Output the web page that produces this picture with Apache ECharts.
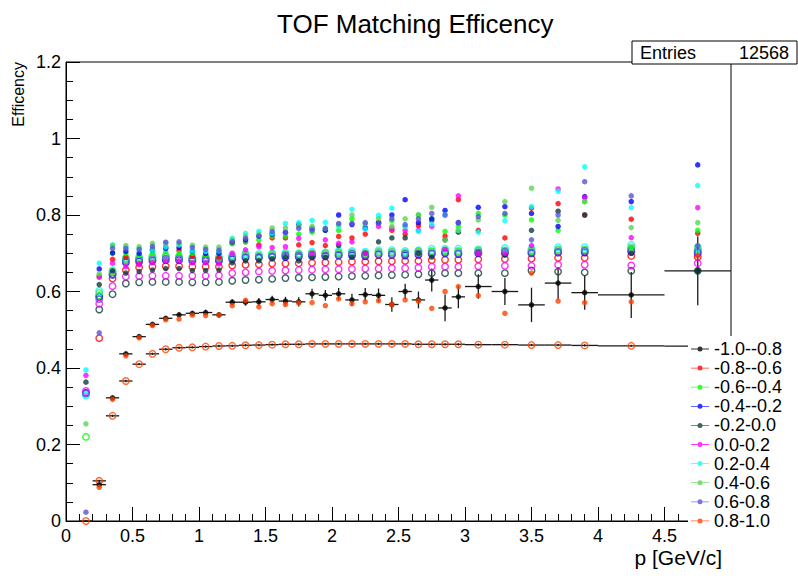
<!DOCTYPE html>
<html><head><meta charset="utf-8">
<script src="https://cdn.jsdelivr.net/npm/echarts@6/dist/echarts.min.js"></script>
<style>html,body{margin:0;padding:0;background:#fff}#c{width:798px;height:578px}</style>
</head><body><div id="c"></div><script>
// ---- data ----
const binCenters = [0.15,0.25,0.35,0.45,0.55,0.65,0.75,0.85,0.95,1.05,1.15,1.25,1.35,1.45,1.55,1.65,1.75,1.85,1.95,2.05,2.15,2.25,2.35,2.45,2.55,2.65,2.75,2.85,2.95,3.1,3.3,3.5,3.7,3.9,4.25,4.75];
const binLow  = [0.1,0.2,0.3,0.4,0.5,0.6,0.7,0.8,0.9,1.0,1.1,1.2,1.3,1.4,1.5,1.6,1.7,1.8,1.9,2.0,2.1,2.2,2.3,2.4,2.5,2.6,2.7,2.8,2.9,3.0,3.2,3.4,3.6,3.8,4.0,4.5];
const binHigh = [0.2,0.3,0.4,0.5,0.6,0.7,0.8,0.9,1.0,1.1,1.2,1.3,1.4,1.5,1.6,1.7,1.8,1.9,2.0,2.1,2.2,2.3,2.4,2.5,2.6,2.7,2.8,2.9,3.0,3.2,3.4,3.6,3.8,4.0,4.5,5.0];
const etaLabels = ['-1.0--0.8','-0.8--0.6','-0.6--0.4','-0.4--0.2','-0.2-0.0','0.0-0.2','0.2-0.4','0.4-0.6','0.6-0.8','0.8-1.0'];
const etaColors = ['#000000','#ff0000','#00ff00','#0000ff','#0e3c3c','#ff00ff','#00ffff','#59d454','#5954d8','#ff4200'];
const xTicks = [0,0.5,1,1.5,2,2.5,3,3.5,4,4.5];
const yTicks = [0,0.2,0.4,0.6,0.8,1,1.2];
const entries = 12568;

// filled markers (one per eta bin)
const effA_n10_n08 = [null,0.095,0.322,0.437,0.482,0.514,0.530,0.539,0.543,0.545,0.539,0.572,0.572,0.573,0.579,0.575,0.573,0.594,0.590,0.594,0.578,0.592,0.590,0.566,0.600,0.578,0.630,0.557,0.586,0.613,0.600,0.565,0.622,0.597,0.591,0.654];
const errA_n10_n08 = [0,0.004,0.005,0.005,0.005,0.005,0.005,0.006,0.006,0.007,0.007,0.008,0.009,0.010,0.010,0.011,0.012,0.013,0.014,0.015,0.016,0.017,0.018,0.019,0.020,0.022,0.030,0.035,0.030,0.032,0.035,0.045,0.042,0.045,0.060,0.090];
const effA_n08_n06 = [null,0.640,0.684,0.690,0.672,0.711,0.717,0.708,0.692,0.695,0.688,0.726,0.730,0.722,0.740,0.740,0.722,0.728,0.720,0.744,0.740,0.750,0.780,0.760,0.750,0.772,0.785,0.745,0.840,0.760,0.740,0.818,0.830,0.800,0.789,0.752];
const effA_n06_n04 = [null,0.640,0.700,0.700,0.695,0.700,0.705,0.700,0.700,0.695,0.700,0.725,0.730,0.735,0.745,0.745,0.750,0.755,0.760,0.760,0.790,0.770,0.780,0.785,0.770,0.800,0.790,0.757,0.770,0.804,0.800,0.787,0.760,0.835,0.715,0.760];
const effA_n04_n02 = [null,0.659,0.701,0.705,0.700,0.708,0.713,0.715,0.705,0.700,0.700,0.730,0.735,0.745,0.750,0.755,0.775,0.765,0.760,0.800,0.775,0.765,0.780,0.800,0.840,0.780,0.790,0.812,0.780,0.820,0.822,0.804,0.770,0.848,0.835,0.931];
const effA_n02_p00 = [0.363,0.618,0.654,0.648,0.652,0.656,0.660,0.660,0.655,0.655,0.656,0.675,0.680,0.680,0.685,0.690,0.680,0.690,0.690,0.720,0.690,0.700,0.730,0.740,0.740,0.700,0.690,0.735,0.755,0.700,0.695,0.760,0.810,0.800,0.700,0.654];
const effA_p00_p02 = [0.381,0.637,0.674,0.665,0.670,0.675,0.680,0.680,0.675,0.675,0.672,0.700,0.709,0.717,0.715,0.717,0.739,0.700,0.735,0.726,0.730,0.700,0.770,0.765,0.760,0.760,0.770,0.710,0.850,0.700,0.700,0.720,0.868,0.845,0.741,0.819];
const effA_p02_p04 = [0.395,0.674,0.722,0.716,0.712,0.708,0.717,0.722,0.706,0.705,0.706,0.739,0.752,0.757,0.752,0.778,0.780,0.786,0.781,0.770,0.815,0.763,0.799,0.818,0.770,0.757,0.776,0.800,0.760,0.755,0.785,0.822,0.862,0.926,0.819,0.877];
const effA_p04_p06 = [0.254,0.647,0.720,0.720,0.717,0.726,0.727,0.725,0.721,0.716,0.716,0.735,0.745,0.750,0.766,0.766,0.770,0.770,0.765,0.775,0.800,0.778,0.790,0.770,0.790,0.800,0.820,0.735,0.760,0.787,0.835,0.870,0.786,0.835,0.767,0.780];
const effA_p06_p08 = [0.023,0.492,0.713,0.712,0.710,0.718,0.729,0.730,0.715,0.710,0.708,0.730,0.739,0.745,0.757,0.754,0.765,0.760,0.765,0.778,0.778,0.780,0.778,0.790,0.775,0.790,0.804,0.800,0.780,0.796,0.804,0.735,0.800,0.887,0.850,0.720];
const effA_p08_p10 = [null,0.088,0.318,0.432,0.479,0.511,0.526,0.528,0.538,0.537,0.539,0.563,0.577,0.560,0.568,0.566,0.570,0.571,0.563,0.581,0.568,0.573,0.576,0.566,0.578,0.575,0.556,0.600,0.613,0.589,0.543,0.648,0.575,0.571,0.573,0.693];

// open markers (one per eta bin)
const effB_n10_n08 = [null,null,null,null,null,null,null,null,null,null,null,null,null,null,null,null,null,null,null,null,null,null,null,null,null,null,null,null,null,null,null,null,null,null,null,null];
const effB_n08_n06 = [null,0.478,0.634,0.656,0.663,0.665,0.666,0.666,0.665,0.665,0.665,0.668,0.670,0.671,0.673,0.673,0.674,0.675,0.676,0.677,0.678,0.678,0.679,0.679,0.680,0.680,0.682,0.683,0.683,0.684,0.685,0.686,0.688,0.688,0.693,0.690];
const effB_n06_n04 = [0.220,0.590,0.650,0.684,0.684,0.688,0.690,0.688,0.686,0.686,0.686,0.690,0.694,0.692,0.696,0.696,0.696,0.698,0.698,0.700,0.700,0.698,0.702,0.702,0.700,0.704,0.704,0.706,0.704,0.706,0.706,0.706,0.708,0.708,0.712,0.708];
const effB_n04_n02 = [0.335,0.586,0.645,0.676,0.678,0.680,0.682,0.682,0.680,0.680,0.680,0.684,0.688,0.688,0.690,0.690,0.690,0.692,0.692,0.694,0.694,0.692,0.696,0.696,0.694,0.696,0.698,0.700,0.698,0.700,0.700,0.700,0.702,0.702,0.704,0.700];
const effB_n02_p00 = [null,0.553,0.593,0.621,0.624,0.625,0.625,0.625,0.624,0.624,0.625,0.628,0.630,0.631,0.633,0.635,0.636,0.637,0.638,0.639,0.640,0.641,0.642,0.643,0.644,0.645,0.648,0.648,0.648,0.648,0.648,0.655,0.652,0.650,0.654,0.654];
const effB_p00_p02 = [0.340,0.568,0.614,0.639,0.640,0.641,0.641,0.641,0.641,0.641,0.642,0.648,0.650,0.652,0.654,0.655,0.656,0.657,0.658,0.658,0.659,0.660,0.660,0.661,0.661,0.662,0.665,0.665,0.665,0.666,0.667,0.667,0.670,0.670,0.668,0.674];
const effB_p02_p04 = [0.328,0.602,0.656,0.688,0.690,0.692,0.694,0.692,0.690,0.690,0.690,0.695,0.700,0.698,0.700,0.702,0.700,0.704,0.702,0.706,0.706,0.704,0.708,0.708,0.706,0.708,0.712,0.712,0.712,0.710,0.714,0.712,0.716,0.716,0.722,0.716];
const effB_p04_p06 = [null,0.596,0.652,0.686,0.688,0.690,0.692,0.690,0.688,0.688,0.688,0.692,0.696,0.694,0.698,0.698,0.698,0.700,0.700,0.702,0.702,0.700,0.704,0.704,0.702,0.706,0.706,0.708,0.706,0.708,0.708,0.708,0.710,0.710,0.716,0.712];
const effB_p06_p08 = [0.333,0.580,0.643,0.680,0.682,0.684,0.686,0.686,0.684,0.684,0.684,0.688,0.690,0.690,0.692,0.694,0.694,0.696,0.694,0.696,0.698,0.696,0.698,0.698,0.698,0.700,0.700,0.702,0.700,0.702,0.704,0.702,0.704,0.706,0.708,0.704];
const effB_p08_p10 = [0.000,0.105,0.275,0.366,0.410,0.437,0.449,0.453,0.454,0.456,0.4575,0.458,0.4595,0.460,0.461,0.462,0.462,0.463,0.463,0.463,0.463,0.463,0.463,0.463,0.463,0.462,0.462,0.462,0.462,0.461,0.461,0.460,0.460,0.459,0.458,0.457];
const errB_p08_p10 = [0.002,0.003,0.003,0.003,0.003,0.003,0.003,0.003,0.003,0.003,0.003,0.003,0.003,0.003,0.003,0.003,0.003,0.003,0.003,0.003,0.003,0.003,0.003,0.003,0.003,0.003,0.003,0.003,0.003,0.003,0.003,0.003,0.003,0.003,0.003,0.003];

const filledSets = [effA_n10_n08,effA_n08_n06,effA_n06_n04,effA_n04_n02,effA_n02_p00,effA_p00_p02,effA_p02_p04,effA_p04_p06,effA_p06_p08,effA_p08_p10];
const openSets = [effB_n10_n08,effB_n08_n06,effB_n06_n04,effB_n04_n02,effB_n02_p00,effB_p00_p02,effB_p02_p04,effB_p04_p06,effB_p06_p08,effB_p08_p10];

// ---- build ----
const FONT = 'Liberation Sans';
function pairs(vals){ const d=[]; vals.forEach((v,i)=>{ if(v!==null) d.push([binCenters[i], v]); }); return d; }
function errorBars(name, vals, errs){
  const d=[]; vals.forEach((v,i)=>{ if(v!==null) d.push([binCenters[i], v, binLow[i], binHigh[i], errs[i]]); });
  return { type:'custom', name, z:2, silent:true, encode:{x:0,y:1}, data:d,
    renderItem(params, api){
      const x=api.value(0), y=api.value(1), lo=api.value(2), hi=api.value(3), e=api.value(4);
      const a=api.coord([lo,y]), b=api.coord([hi,y]), t=api.coord([x,y+e]), u=api.coord([x,y-e]);
      const st={stroke:'#1a1a1a', lineWidth:1.3};
      return {type:'group', children:[
        {type:'line', shape:{x1:a[0],y1:a[1],x2:b[0],y2:b[1]}, style:st},
        {type:'line', shape:{x1:t[0],y1:t[1],x2:u[0],y2:u[1]}, style:st}
      ]};
    }};
}
const series = [];
series.push(errorBars('err A', effA_n10_n08, errA_n10_n08));
series.push(errorBars('err B', effB_p08_p10, errB_p08_p10));
openSets.forEach((vals,k)=>{
  series.push({type:'scatter', name:'open '+etaLabels[k], data:pairs(vals), symbol:'circle', symbolSize:6.5, z:3, silent:true,
    itemStyle:{color:'rgba(255,255,255,0)', borderColor:etaColors[k], borderWidth:1.4}});
});
filledSets.forEach((vals,k)=>{
  series.push({type:'scatter', name:etaLabels[k], data:pairs(vals), symbol:'circle', symbolSize:5.5, z:4, silent:true,
    itemStyle:{color:etaColors[k]}});
});

const chart = echarts.init(document.getElementById('c'), null, {renderer:'svg'});
chart.setOption({
  animation:false,
  backgroundColor:'#ffffff',
  title:{text:'TOF Matching Efficency', left:272, top:6,
    textStyle:{fontFamily:FONT, fontSize:26, fontWeight:'normal', color:'#000'}},
  grid:{left:66, right:67, top:62, bottom:57, show:true, borderColor:'#000', borderWidth:1, backgroundColor:'rgba(0,0,0,0)'},
  xAxis:{type:'value', min:0, max:5, interval:0.5,
    axisLine:{show:true, onZero:false, lineStyle:{color:'#000', width:1}},
    axisTick:{show:true, inside:true, length:14, lineStyle:{color:'#000'}},
    minorTick:{show:true, splitNumber:5, length:7, lineStyle:{color:'#000'}},
    splitLine:{show:false},
    axisLabel:{showMaxLabel:false, margin:6, fontFamily:FONT, fontSize:18, color:'#000',
      formatter:v=> xTicks.includes(+v.toFixed(2)) ? String(+v.toFixed(2)) : ''}},
  yAxis:{type:'value', min:0, max:1.2, interval:0.2,
    axisLine:{show:true, onZero:false, lineStyle:{color:'#000', width:1}},
    axisTick:{show:true, inside:true, length:14, lineStyle:{color:'#000'}},
    minorTick:{show:true, splitNumber:4, length:7, lineStyle:{color:'#000'}},
    splitLine:{show:false},
    axisLabel:{margin:5, fontFamily:FONT, fontSize:18, color:'#000',
      formatter:v=> yTicks.includes(+v.toFixed(2)) ? String(+v.toFixed(2)) : ''}},
  legend:{data:etaLabels, orient:'vertical', left:691, top:340, z:20, padding:0,
    itemWidth:18, itemHeight:6, itemGap:1.1, selectedMode:false,
    icon:'path://M0,2.6H18V3.4H0Z M6.5,3A2.5,2.5 0 1 1 11.5,3A2.5,2.5 0 1 1 6.5,3Z',
    textStyle:{fontFamily:FONT, fontSize:18, color:'#000'}},
  graphic:[
    {type:'rect', z:10, shape:{x:688, y:336, width:110, height:188}, style:{fill:'#fff'}},
    {type:'rect', z:10, shape:{x:632, y:41, width:165, height:23}, style:{fill:'#fff', stroke:'#000', lineWidth:1}},
    {type:'text', z:11, x:640, y:53, style:{text:'Entries', fontFamily:FONT, fontSize:18, fill:'#000', align:'left', verticalAlign:'middle'}},
    {type:'text', z:11, x:789, y:53, style:{text:String(entries), fontFamily:FONT, fontSize:18, fill:'#000', align:'right', verticalAlign:'middle'}},
    {type:'text', z:11, x:722, y:557, style:{text:'p [GeV/c]', fontFamily:FONT, fontSize:21, fill:'#000', align:'right', verticalAlign:'middle'}},
    {type:'text', z:11, x:18, y:62, rotation:Math.PI/2, style:{text:'Efficency', fontFamily:FONT, fontSize:16, fill:'#000', align:'right', verticalAlign:'middle'}}
  ],
  series
});
</script></body></html>
